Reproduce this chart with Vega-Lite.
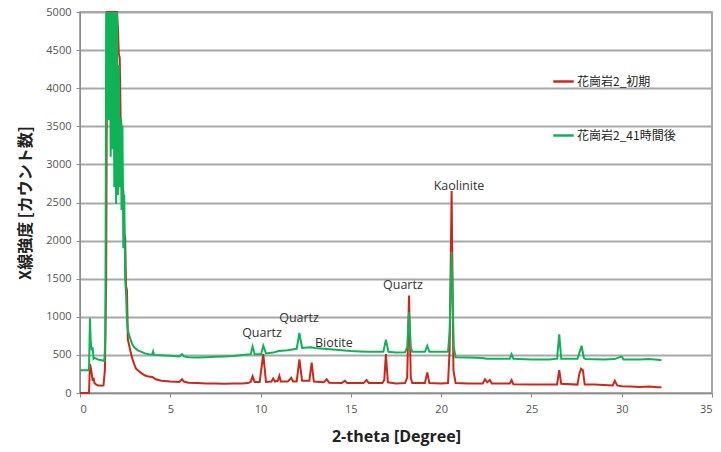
{
  "$schema": "https://vega.github.io/schema/vega-lite/v6.json",
  "width": 632,
  "height": 381,
  "autosize": {"type": "none"},
  "padding": {"left": 80, "top": 12, "right": 9, "bottom": 59},
  "background": "white",
  "config": {
    "view": {"stroke": "#8c8c8c", "strokeWidth": 1.5},
    "font": "Open Sans",
    "axis": {"labelColor": "#555555", "labelFontSize": 11, "labelFont": "Open Sans", "domainColor": "#8c8c8c", "tickColor": "#8c8c8c", "tickSize": 4, "titleColor": "#222222", "labelOverlap": false}
  },
  "datasets": {
    "xrd": [
      {"t":0,"s":"花崗岩2_初期","v":0},{"t":0.45,"s":"花崗岩2_初期","v":0},{"t":0.5,"s":"花崗岩2_初期","v":0},{"t":0.55,"s":"花崗岩2_初期","v":380},{"t":0.6,"s":"花崗岩2_初期","v":330},{"t":0.65,"s":"花崗岩2_初期","v":250},{"t":0.7,"s":"花崗岩2_初期","v":160},{"t":0.75,"s":"花崗岩2_初期","v":200},{"t":0.8,"s":"花崗岩2_初期","v":130},{"t":0.9,"s":"花崗岩2_初期","v":110},{"t":1.0,"s":"花崗岩2_初期","v":100},{"t":1.1,"s":"花崗岩2_初期","v":100},{"t":1.2,"s":"花崗岩2_初期","v":95},{"t":1.3,"s":"花崗岩2_初期","v":100},{"t":1.38,"s":"花崗岩2_初期","v":300},{"t":1.45,"s":"花崗岩2_初期","v":1500},{"t":1.5,"s":"花崗岩2_初期","v":5600},{"t":1.6,"s":"花崗岩2_初期","v":6500},{"t":1.7,"s":"花崗岩2_初期","v":7000},{"t":1.8,"s":"花崗岩2_初期","v":7500},{"t":1.9,"s":"花崗岩2_初期","v":6500},{"t":2.0,"s":"花崗岩2_初期","v":5600},{"t":2.05,"s":"花崗岩2_初期","v":5000},{"t":2.1,"s":"花崗岩2_初期","v":4800},{"t":2.15,"s":"花崗岩2_初期","v":4450},{"t":2.2,"s":"花崗岩2_初期","v":4400},{"t":2.25,"s":"花崗岩2_初期","v":3600},{"t":2.3,"s":"花崗岩2_初期","v":3500},{"t":2.35,"s":"花崗岩2_初期","v":2700},{"t":2.4,"s":"花崗岩2_初期","v":2650},{"t":2.45,"s":"花崗岩2_初期","v":2100},{"t":2.5,"s":"花崗岩2_初期","v":2050},{"t":2.55,"s":"花崗岩2_初期","v":1400},{"t":2.6,"s":"花崗岩2_初期","v":1350},{"t":2.65,"s":"花崗岩2_初期","v":700},{"t":2.7,"s":"花崗岩2_初期","v":650},{"t":2.8,"s":"花崗岩2_初期","v":540},{"t":2.9,"s":"花崗岩2_初期","v":450},{"t":3.0,"s":"花崗岩2_初期","v":380},{"t":3.1,"s":"花崗岩2_初期","v":320},{"t":3.2,"s":"花崗岩2_初期","v":300},{"t":3.4,"s":"花崗岩2_初期","v":260},{"t":3.6,"s":"花崗岩2_初期","v":230},{"t":3.8,"s":"花崗岩2_初期","v":215},{"t":4.0,"s":"花崗岩2_初期","v":210},{"t":4.2,"s":"花崗岩2_初期","v":180},{"t":4.5,"s":"花崗岩2_初期","v":160},{"t":5.0,"s":"花崗岩2_初期","v":150},{"t":5.5,"s":"花崗岩2_初期","v":145},{"t":5.65,"s":"花崗岩2_初期","v":180},{"t":5.75,"s":"花崗岩2_初期","v":150},{"t":6.0,"s":"花崗岩2_初期","v":135},{"t":6.5,"s":"花崗岩2_初期","v":130},{"t":7.0,"s":"花崗岩2_初期","v":125},{"t":7.5,"s":"花崗岩2_初期","v":125},{"t":8.0,"s":"花崗岩2_初期","v":120},{"t":8.5,"s":"花崗岩2_初期","v":125},{"t":9.0,"s":"花崗岩2_初期","v":125},{"t":9.3,"s":"花崗岩2_初期","v":130},{"t":9.45,"s":"花崗岩2_初期","v":145},{"t":9.56,"s":"花崗岩2_初期","v":220},{"t":9.67,"s":"花崗岩2_初期","v":145},{"t":9.95,"s":"花崗岩2_初期","v":145},{"t":10.15,"s":"花崗岩2_初期","v":510},{"t":10.3,"s":"花崗岩2_初期","v":145},{"t":10.6,"s":"花崗岩2_初期","v":150},{"t":10.7,"s":"花崗岩2_初期","v":190},{"t":10.8,"s":"花崗岩2_初期","v":150},{"t":10.95,"s":"花崗岩2_初期","v":160},{"t":11.04,"s":"花崗岩2_初期","v":225},{"t":11.12,"s":"花崗岩2_初期","v":150},{"t":11.5,"s":"花崗岩2_初期","v":150},{"t":11.7,"s":"花崗岩2_初期","v":200},{"t":11.8,"s":"花崗岩2_初期","v":150},{"t":12.0,"s":"花崗岩2_初期","v":150},{"t":12.15,"s":"花崗岩2_初期","v":440},{"t":12.3,"s":"花崗岩2_初期","v":160},{"t":12.7,"s":"花崗岩2_初期","v":160},{"t":12.83,"s":"花崗岩2_初期","v":400},{"t":12.95,"s":"花崗岩2_初期","v":150},{"t":13.5,"s":"花崗岩2_初期","v":140},{"t":13.66,"s":"花崗岩2_初期","v":180},{"t":13.8,"s":"花崗岩2_初期","v":135},{"t":14.5,"s":"花崗岩2_初期","v":130},{"t":14.67,"s":"花崗岩2_初期","v":160},{"t":14.8,"s":"花崗岩2_初期","v":130},{"t":15.7,"s":"花崗岩2_初期","v":130},{"t":15.87,"s":"花崗岩2_初期","v":170},{"t":16.0,"s":"花崗岩2_初期","v":130},{"t":16.75,"s":"花崗岩2_初期","v":130},{"t":16.85,"s":"花崗岩2_初期","v":170},{"t":16.94,"s":"花崗岩2_初期","v":510},{"t":17.05,"s":"花崗岩2_初期","v":140},{"t":17.5,"s":"花崗岩2_初期","v":125},{"t":18.0,"s":"花崗岩2_初期","v":130},{"t":18.12,"s":"花崗岩2_初期","v":200},{"t":18.22,"s":"花崗岩2_初期","v":1280},{"t":18.32,"s":"花崗岩2_初期","v":200},{"t":18.4,"s":"花崗岩2_初期","v":130},{"t":19.1,"s":"花崗岩2_初期","v":130},{"t":19.23,"s":"花崗岩2_初期","v":270},{"t":19.35,"s":"花崗岩2_初期","v":130},{"t":20.0,"s":"花崗岩2_初期","v":125},{"t":20.38,"s":"花崗岩2_初期","v":130},{"t":20.47,"s":"花崗岩2_初期","v":560},{"t":20.58,"s":"花崗岩2_初期","v":2650},{"t":20.68,"s":"花崗岩2_初期","v":300},{"t":20.8,"s":"花崗岩2_初期","v":130},{"t":21.5,"s":"花崗岩2_初期","v":125},{"t":22.3,"s":"花崗岩2_初期","v":125},{"t":22.43,"s":"花崗岩2_初期","v":180},{"t":22.55,"s":"花崗岩2_初期","v":140},{"t":22.7,"s":"花崗岩2_初期","v":170},{"t":22.8,"s":"花崗岩2_初期","v":125},{"t":23.8,"s":"花崗岩2_初期","v":125},{"t":23.9,"s":"花崗岩2_初期","v":170},{"t":24.0,"s":"花崗岩2_初期","v":115},{"t":25.0,"s":"花崗岩2_初期","v":110},{"t":26.0,"s":"花崗岩2_初期","v":110},{"t":26.42,"s":"花崗岩2_初期","v":110},{"t":26.54,"s":"花崗岩2_初期","v":300},{"t":26.65,"s":"花崗岩2_初期","v":120},{"t":27.55,"s":"花崗岩2_初期","v":110},{"t":27.65,"s":"花崗岩2_初期","v":250},{"t":27.75,"s":"花崗岩2_初期","v":320},{"t":27.85,"s":"花崗岩2_初期","v":300},{"t":27.95,"s":"花崗岩2_初期","v":110},{"t":28.5,"s":"花崗岩2_初期","v":110},{"t":29.5,"s":"花崗岩2_初期","v":100},{"t":29.62,"s":"花崗岩2_初期","v":160},{"t":29.75,"s":"花崗岩2_初期","v":100},{"t":30.0,"s":"花崗岩2_初期","v":90},{"t":30.5,"s":"花崗岩2_初期","v":85},{"t":31.0,"s":"花崗岩2_初期","v":80},{"t":31.5,"s":"花崗岩2_初期","v":85},{"t":32.0,"s":"花崗岩2_初期","v":75},{"t":32.2,"s":"花崗岩2_初期","v":75},
      {"t":0,"s":"花崗岩2_41時間後","v":300},{"t":0.45,"s":"花崗岩2_41時間後","v":300},{"t":0.5,"s":"花崗岩2_41時間後","v":320},{"t":0.55,"s":"花崗岩2_41時間後","v":980},{"t":0.6,"s":"花崗岩2_41時間後","v":650},{"t":0.65,"s":"花崗岩2_41時間後","v":560},{"t":0.7,"s":"花崗岩2_41時間後","v":600},{"t":0.75,"s":"花崗岩2_41時間後","v":450},{"t":0.8,"s":"花崗岩2_41時間後","v":460},{"t":1.0,"s":"花崗岩2_41時間後","v":440},{"t":1.2,"s":"花崗岩2_41時間後","v":430},{"t":1.35,"s":"花崗岩2_41時間後","v":420},{"t":1.4,"s":"花崗岩2_41時間後","v":700},{"t":1.42,"s":"花崗岩2_41時間後","v":2000},{"t":1.45,"s":"花崗岩2_41時間後","v":6000},{"t":1.5,"s":"花崗岩2_41時間後","v":3600},{"t":1.55,"s":"花崗岩2_41時間後","v":6000},{"t":1.6,"s":"花崗岩2_41時間後","v":3580},{"t":1.65,"s":"花崗岩2_41時間後","v":6000},{"t":1.7,"s":"花崗岩2_41時間後","v":3100},{"t":1.75,"s":"花崗岩2_41時間後","v":6000},{"t":1.8,"s":"花崗岩2_41時間後","v":3200},{"t":1.85,"s":"花崗岩2_41時間後","v":5500},{"t":1.9,"s":"花崗岩2_41時間後","v":2700},{"t":1.95,"s":"花崗岩2_41時間後","v":5200},{"t":2.0,"s":"花崗岩2_41時間後","v":2480},{"t":2.05,"s":"花崗岩2_41時間後","v":5000},{"t":2.1,"s":"花崗岩2_41時間後","v":2600},{"t":2.15,"s":"花崗岩2_41時間後","v":4300},{"t":2.2,"s":"花崗岩2_41時間後","v":2700},{"t":2.25,"s":"花崗岩2_41時間後","v":3620},{"t":2.3,"s":"花崗岩2_41時間後","v":2400},{"t":2.35,"s":"花崗岩2_41時間後","v":3500},{"t":2.4,"s":"花崗岩2_41時間後","v":1900},{"t":2.45,"s":"花崗岩2_41時間後","v":2600},{"t":2.5,"s":"花崗岩2_41時間後","v":1500},{"t":2.55,"s":"花崗岩2_41時間後","v":1300},{"t":2.6,"s":"花崗岩2_41時間後","v":950},{"t":2.65,"s":"花崗岩2_41時間後","v":820},{"t":2.7,"s":"花崗岩2_41時間後","v":780},{"t":2.8,"s":"花崗岩2_41時間後","v":700},{"t":2.9,"s":"花崗岩2_41時間後","v":640},{"t":3.0,"s":"花崗岩2_41時間後","v":600},{"t":3.2,"s":"花崗岩2_41時間後","v":560},{"t":3.4,"s":"花崗岩2_41時間後","v":540},{"t":3.6,"s":"花崗岩2_41時間後","v":520},{"t":3.8,"s":"花崗岩2_41時間後","v":510},{"t":4.0,"s":"花崗岩2_41時間後","v":505},{"t":4.05,"s":"花崗岩2_41時間後","v":545},{"t":4.1,"s":"花崗岩2_41時間後","v":500},{"t":4.5,"s":"花崗岩2_41時間後","v":495},{"t":5.0,"s":"花崗岩2_41時間後","v":490},{"t":5.5,"s":"花崗岩2_41時間後","v":480},{"t":5.65,"s":"花崗岩2_41時間後","v":510},{"t":5.75,"s":"花崗岩2_41時間後","v":480},{"t":6.0,"s":"花崗岩2_41時間後","v":470},{"t":6.5,"s":"花崗岩2_41時間後","v":465},{"t":7.0,"s":"花崗岩2_41時間後","v":470},{"t":7.5,"s":"花崗岩2_41時間後","v":475},{"t":8.0,"s":"花崗岩2_41時間後","v":480},{"t":8.5,"s":"花崗岩2_41時間後","v":485},{"t":9.0,"s":"花崗岩2_41時間後","v":500},{"t":9.45,"s":"花崗岩2_41時間後","v":510},{"t":9.56,"s":"花崗岩2_41時間後","v":610},{"t":9.67,"s":"花崗岩2_41時間後","v":510},{"t":10.03,"s":"花崗岩2_41時間後","v":510},{"t":10.15,"s":"花崗岩2_41時間後","v":620},{"t":10.3,"s":"花崗岩2_41時間後","v":520},{"t":10.7,"s":"花崗岩2_41時間後","v":530},{"t":11.0,"s":"花崗岩2_41時間後","v":550},{"t":11.5,"s":"花崗岩2_41時間後","v":560},{"t":12.0,"s":"花崗岩2_41時間後","v":580},{"t":12.15,"s":"花崗岩2_41時間後","v":790},{"t":12.3,"s":"花崗岩2_41時間後","v":590},{"t":12.8,"s":"花崗岩2_41時間後","v":600},{"t":13.0,"s":"花崗岩2_41時間後","v":590},{"t":13.5,"s":"花崗岩2_41時間後","v":580},{"t":14.0,"s":"花崗岩2_41時間後","v":570},{"t":14.5,"s":"花崗岩2_41時間後","v":560},{"t":15.0,"s":"花崗岩2_41時間後","v":550},{"t":15.5,"s":"花崗岩2_41時間後","v":545},{"t":16.0,"s":"花崗岩2_41時間後","v":540},{"t":16.8,"s":"花崗岩2_41時間後","v":540},{"t":16.94,"s":"花崗岩2_41時間後","v":700},{"t":17.08,"s":"花崗岩2_41時間後","v":540},{"t":17.5,"s":"花崗岩2_41時間後","v":530},{"t":18.0,"s":"花崗岩2_41時間後","v":535},{"t":18.12,"s":"花崗岩2_41時間後","v":600},{"t":18.22,"s":"花崗岩2_41時間後","v":1060},{"t":18.32,"s":"花崗岩2_41時間後","v":600},{"t":18.4,"s":"花崗岩2_41時間後","v":540},{"t":19.1,"s":"花崗岩2_41時間後","v":540},{"t":19.23,"s":"花崗岩2_41時間後","v":620},{"t":19.35,"s":"花崗岩2_41時間後","v":540},{"t":20.0,"s":"花崗岩2_41時間後","v":540},{"t":20.38,"s":"花崗岩2_41時間後","v":540},{"t":20.47,"s":"花崗岩2_41時間後","v":800},{"t":20.58,"s":"花崗岩2_41時間後","v":1850},{"t":20.7,"s":"花崗岩2_41時間後","v":600},{"t":20.8,"s":"花崗岩2_41時間後","v":470},{"t":21.5,"s":"花崗岩2_41時間後","v":465},{"t":22.3,"s":"花崗岩2_41時間後","v":460},{"t":22.5,"s":"花崗岩2_41時間後","v":450},{"t":23.8,"s":"花崗岩2_41時間後","v":450},{"t":23.9,"s":"花崗岩2_41時間後","v":510},{"t":24.0,"s":"花崗岩2_41時間後","v":450},{"t":25.0,"s":"花崗岩2_41時間後","v":440},{"t":26.0,"s":"花崗岩2_41時間後","v":440},{"t":26.42,"s":"花崗岩2_41時間後","v":450},{"t":26.54,"s":"花崗岩2_41時間後","v":770},{"t":26.65,"s":"花崗岩2_41時間後","v":450},{"t":27.55,"s":"花崗岩2_41時間後","v":450},{"t":27.7,"s":"花崗岩2_41時間後","v":560},{"t":27.78,"s":"花崗岩2_41時間後","v":620},{"t":27.9,"s":"花崗岩2_41時間後","v":460},{"t":28.0,"s":"花崗岩2_41時間後","v":445},{"t":29.0,"s":"花崗岩2_41時間後","v":440},{"t":29.6,"s":"花崗岩2_41時間後","v":445},{"t":30.0,"s":"花崗岩2_41時間後","v":480},{"t":30.1,"s":"花崗岩2_41時間後","v":440},{"t":31.0,"s":"花崗岩2_41時間後","v":440},{"t":31.5,"s":"花崗岩2_41時間後","v":445},{"t":32.0,"s":"花崗岩2_41時間後","v":435},{"t":32.2,"s":"花崗岩2_41時間後","v":430}
    ],
    "notes": [
      {"t":20.99,"v":2717,"label":"Kaolinite"},
      {"t":17.88,"v":1417,"label":"Quartz"},
      {"t":12.13,"v":984,"label":"Quartz"},
      {"t":10.08,"v":787,"label":"Quartz"},
      {"t":14.06,"v":656,"label":"Biotite"}
    ]
  },
  "encoding": {
    "x": {"field": "t", "type": "quantitative", "scale": {"domain": [0, 35], "nice": false},
      "axis": {"values": [0,5,10,15,20,25,30,35], "grid": false, "labelOverlap": false, "title": "2-theta [Degree]", "titleFontSize": 16, "titleFontWeight": "bold", "titleFont": "Open Sans", "titlePadding": 14, "labelPadding": 6}},
    "y": {"field": "v", "type": "quantitative", "scale": {"domain": [0, 5000], "nice": false, "clamp": true},
      "axis": {"values": [0,500,1000,1500,2000,2500,3000,3500,4000,4500,5000], "format": "d", "grid": true, "gridColor": "#a8a8a8", "gridWidth": 2, "gridOpacity": 1, "labelOverlap": false, "title": "X線強度  [カウント数]", "titleFont": "Noto Sans CJK JP", "titleFontSize": 16, "titleFontWeight": "bold", "titlePadding": 12, "labelPadding": 5}}
  },
  "layer": [
    {
      "data": {"name": "xrd"},
      "transform": [{"filter": "datum.s === '花崗岩2_初期'"}],
      "mark": {"type": "line", "strokeWidth": 2},
      "encoding": {
        "color": {"field": "s", "type": "nominal",
          "scale": {"domain": ["花崗岩2_初期", "花崗岩2_41時間後"], "range": ["#d0261a", "#0cb456"]},
          "legend": {"title": null, "orient": "none", "legendX": 472, "legendY": 58, "symbolType": "stroke", "symbolStrokeWidth": 2.5, "symbolSize": 420, "labelFont": "Noto Sans CJK JP", "labelFontSize": 12, "labelColor": "#222222", "rowPadding": 36, "labelOffset": 2, "padding": 0}}
      }
    },
    {
      "data": {"name": "xrd"},
      "transform": [{"filter": "datum.s === '花崗岩2_41時間後'"}],
      "mark": {"type": "line", "strokeWidth": 2},
      "encoding": {
        "color": {"field": "s", "type": "nominal"}
      }
    },
    {
      "data": {"name": "notes"},
      "mark": {"type": "text", "font": "Open Sans", "fontSize": 12.5, "color": "#333333", "align": "center", "baseline": "middle"},
      "encoding": {
        "text": {"field": "label"}
      }
    }
  ]
}
